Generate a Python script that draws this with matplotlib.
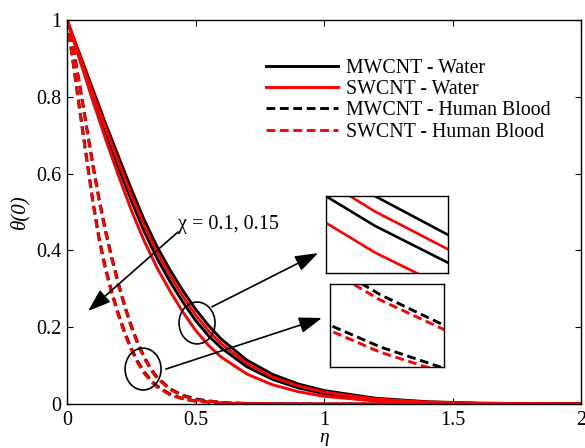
import matplotlib
matplotlib.use("Agg")
import matplotlib.pyplot as plt
from matplotlib.patches import Ellipse

plt.rcParams['font.family'] = ['Liberation Serif', 'DejaVu Serif']

# ---------------- data ----------------
eta_s = [0, 0.05, 0.1, 0.15, 0.2, 0.25, 0.3, 0.35, 0.4, 0.45, 0.5, 0.55, 0.6,
         0.7, 0.8, 0.9, 1.0, 1.2, 1.4, 1.6, 2.0]
# Water (solid)
mw_water_a = [1, 0.91, 0.82, 0.73, 0.645, 0.56, 0.48, 0.41, 0.35, 0.296, 0.247, 0.205, 0.169,
              0.114, 0.077, 0.052, 0.035, 0.015, 0.006, 0.002, 0]
sw_water_a = [1, 0.905, 0.81, 0.72, 0.63, 0.545, 0.465, 0.395, 0.335, 0.281, 0.232, 0.191, 0.157,
              0.105, 0.07, 0.047, 0.031, 0.013, 0.005, 0.002, 0]
mw_water_b = [1, 0.9, 0.8, 0.705, 0.615, 0.53, 0.45, 0.38, 0.32, 0.266, 0.218, 0.178, 0.146,
              0.097, 0.064, 0.042, 0.027, 0.011, 0.004, 0.0015, 0]
sw_water_b = [1, 0.895, 0.79, 0.69, 0.595, 0.505, 0.425, 0.355, 0.295, 0.24, 0.192, 0.153, 0.122,
              0.078, 0.05, 0.032, 0.02, 0.008, 0.003, 0.001, 0]

eta_d = [0, 0.025, 0.05, 0.075, 0.1, 0.125, 0.15, 0.175, 0.2, 0.225, 0.25, 0.275, 0.3,
         0.325, 0.35, 0.4, 0.45, 0.5, 0.6, 0.7, 0.8, 1.0, 2.0]
# Human blood (dashed)
mw_blood_a = [1, 0.925, 0.83, 0.727, 0.627, 0.534, 0.452, 0.38, 0.314, 0.255, 0.204, 0.160, 0.123,
              0.093, 0.070, 0.040, 0.023, 0.013, 0.004, 0.0015, 0.0005, 0, 0]
sw_blood_a = [1, 0.921, 0.825, 0.722, 0.621, 0.528, 0.446, 0.375, 0.309, 0.251, 0.200, 0.156, 0.119,
              0.090, 0.067, 0.038, 0.021, 0.011, 0.0035, 0.0012, 0.0004, 0, 0]
mw_blood_b = [1, 0.885, 0.765, 0.648, 0.532, 0.432, 0.354, 0.29, 0.235, 0.186, 0.145, 0.111, 0.084,
              0.063, 0.047, 0.026, 0.014, 0.008, 0.0025, 0.0008, 0.0002, 0, 0]
sw_blood_b = [1, 0.881, 0.760, 0.642, 0.526, 0.426, 0.348, 0.285, 0.230, 0.182, 0.141, 0.107, 0.080,
              0.060, 0.044, 0.024, 0.013, 0.007, 0.002, 0.0006, 0.0002, 0, 0]

labels = ['MWCNT - Water', 'SWCNT - Water', 'MWCNT - Human Blood', 'SWCNT - Human Blood']
xticks = [0, 0.5, 1, 1.5, 2]
xticklabels = ['0', '0.5', '1', '1.5', '2']
yticks = [0, 0.2, 0.4, 0.6, 0.8, 1]
yticklabels = ['0', '0.2', '0.4', '0.6', '0.8', '1']

LW = 2.1
DASH = (3.0, 1.6)


def draw_curves(ax, lw=LW):
    h = {}
    h[2], = ax.plot(eta_d, mw_blood_a, color='k', lw=lw, dashes=DASH)
    ax.plot(eta_d, mw_blood_b, color='k', lw=lw, dashes=DASH)
    h[3], = ax.plot(eta_d, sw_blood_a, color='r', lw=lw, dashes=DASH)
    ax.plot(eta_d, sw_blood_b, color='r', lw=lw, dashes=DASH)
    h[0], = ax.plot(eta_s, mw_water_a, color='k', lw=lw)
    ax.plot(eta_s, mw_water_b, color='k', lw=lw)
    h[1], = ax.plot(eta_s, sw_water_a, color='r', lw=lw)
    ax.plot(eta_s, sw_water_b, color='r', lw=lw)
    return [h[0], h[1], h[2], h[3]]


fig = plt.figure(figsize=(5.85, 4.48), dpi=100)
ax = fig.add_axes([67 / 585, 1 - 404 / 448, 514 / 585, 384 / 448])
handles = draw_curves(ax)
ax.set_xlim(0, 2)
ax.set_ylim(0, 1)
ax.set_xticks(xticks)
ax.set_xticklabels(xticklabels)
ax.set_yticks(yticks)
ax.set_yticklabels(yticklabels)
ax.tick_params(direction='in', top=True, right=True, length=4, width=0.8, labelsize=14.5)
ax.tick_params(axis='x', pad=5)
ax.tick_params(axis='y', pad=4)
for s in ax.spines.values():
    s.set_linewidth(1.0)
ax.set_xlabel('η', fontsize=14, style='italic', labelpad=-1)
ax.set_ylabel('θ(0)', fontsize=15, style='italic', labelpad=5)

leg = ax.legend(handles, labels, loc='upper left',
                bbox_to_anchor=(266 / 585, 1 - 58.5 / 448), bbox_transform=fig.transFigure,
                frameon=False, fontsize=14.3, handlelength=3.6, handletextpad=0.45,
                labelspacing=0.12, borderpad=0, borderaxespad=0)

# annotations
ax.text(0.43, 0.456, 'χ = 0.1, 0.15', fontsize=14.5, ha='left', va='baseline')
aprops = dict(arrowstyle='-|>,head_length=1.0,head_width=0.35', color='k', lw=1.2,
              shrinkA=0, shrinkB=0, mutation_scale=14)
ax.annotate('', xy=(0.082, 0.242), xytext=(0.432, 0.448), arrowprops=aprops)
ax.annotate('', xy=(0.977, 0.393), xytext=(0.564, 0.253), arrowprops=aprops)
ax.annotate('', xy=(0.992, 0.224), xytext=(0.385, 0.091), arrowprops=aprops)
ax.add_patch(Ellipse((0.506, 0.211), 0.14, 0.109, fill=False, lw=1.2, color='k', zorder=5))
ax.add_patch(Ellipse((0.296, 0.091), 0.14, 0.109, fill=False, lw=1.2, color='k', zorder=5))

# inset 1 (water)
ins1 = fig.add_axes([326 / 585, 1 - 273 / 448, 122 / 585, 77 / 448])
draw_curves(ins1, lw=1.9)
ins1.set_xlim(0.47, 0.545)
ins1.set_ylim(0.172, 0.247)
ins1.set_xticks([])
ins1.set_yticks([])
for s in ins1.spines.values():
    s.set_linewidth(1.0)

# inset 2 (human blood)
ins2 = fig.add_axes([330 / 585, 1 - 367 / 448, 114 / 585, 83 / 448])
draw_curves(ins2, lw=2.1)
ins2.set_xlim(0.285, 0.319)
ins2.set_ylim(0.069, 0.131)
ins2.set_xticks([])
ins2.set_yticks([])
for s in ins2.spines.values():
    s.set_linewidth(1.0)

fig.savefig('out.png', dpi=100)
